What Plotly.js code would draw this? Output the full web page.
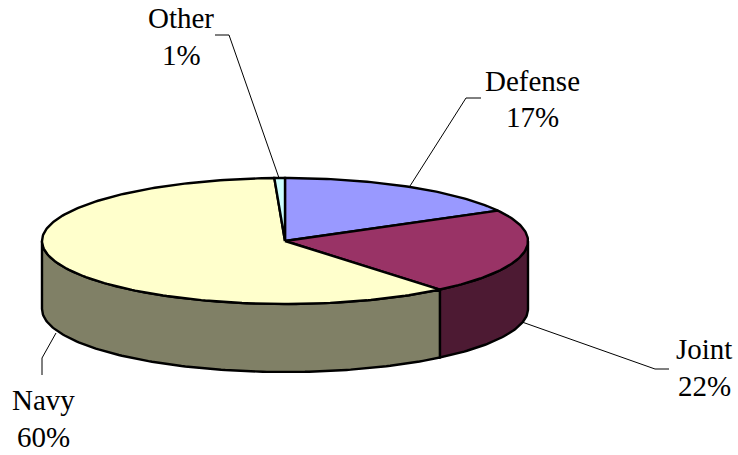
<!DOCTYPE html>
<html><head><meta charset="utf-8">
<script src="https://cdn.plot.ly/plotly-3.0.1.min.js"></script>
<style>html,body{margin:0;padding:0;background:#fff}#c{width:738px;height:455px}</style>
</head><body><div id="c"></div>
<script>
const categories = ["Defense","Joint","Navy","Other"];
const values = [17, 22, 60.3, 0.7];
const percentLabels = ["17%","22%","60%","1%"];
const topColors = ["#9999FF","#993366","#FFFFCC","#CCFFFF"];
const sideColors = ["#4D4D80","#4D1A33","#808066","#668080"];

// Projection of the tilted disc, in plot units
const geo = {cx:285, cy:241, rx:243, ry:63, depth:68};
const pt = (deg, drop=0) => {
  const r = deg*Math.PI/180;
  return [geo.cx + geo.rx*Math.sin(r), geo.cy - geo.ry*Math.cos(r) + drop];
};
const arc = (a, b, drop=0) => {
  const n = Math.max(2, Math.ceil(Math.abs(b-a)));
  const out = [];
  for (let i=0;i<=n;i++) out.push(pt(a+(b-a)*i/n, drop));
  return out;
};
const total = values.reduce((s,v)=>s+v,0);
let acc = 0;
const slices = values.map(v => { const a = acc; acc += v/total*360; return [a, acc]; });

const poly = (pts, fill) => ({
  type:"scatter", mode:"lines", x:pts.map(p=>p[0]), y:pts.map(p=>p[1]),
  fill:"toself", fillcolor:fill, line:{color:"#000",width:2.4,shape:"linear"},
  hoverinfo:"skip", showlegend:false
});

const traces = [];
// outer walls: only the front half of the disc (90 to 270 degrees) is visible
slices.forEach(([a,b],i) => {
  const s = Math.max(a,90), e = Math.min(b,270);
  if (e > s) {
    const pts = arc(s,e).concat(arc(e,s,geo.depth));
    pts.push(pts[0]);
    traces.push(poly(pts, sideColors[i]));
  }
});
// top faces
slices.forEach(([a,b],i) => {
  const pts = [[geo.cx,geo.cy]].concat(arc(a,b));
  pts.push([geo.cx,geo.cy]);
  traces.push(poly(pts, topColors[i]));
});

// leader lines and label placement
const leaders = [
  [[410,186],[466,98],[481,98]],
  [[522,322],[655,369],[669,369]],
  [[56,333],[42,358],[42,375]],
  [[279,178],[229,35],[215,35]]
];
const labelPos = [[532,81,117],[704,349,386],[43,400,437],[181,18,55]];
leaders.forEach(l => traces.push({
  type:"scatter", mode:"lines", x:l.map(p=>p[0]), y:l.map(p=>p[1]),
  line:{color:"#000",width:1}, hoverinfo:"skip", showlegend:false
}));

const font = {family:'"Liberation Serif","Times New Roman",serif', size:29, color:"#000"};
const annotations = [];
categories.forEach((c,i) => {
  const [x,y1,y2] = labelPos[i];
  annotations.push({x,y:y1,text:c,showarrow:false,font,xanchor:"center",yanchor:"middle"});
  annotations.push({x,y:y2,text:percentLabels[i],showarrow:false,font,xanchor:"center",yanchor:"middle"});
});

Plotly.newPlot("c", traces, {
  width:738, height:455, margin:{l:0,r:0,t:0,b:0},
  paper_bgcolor:"#fff", plot_bgcolor:"#fff", showlegend:false,
  xaxis:{range:[0,738],visible:false,fixedrange:true},
  yaxis:{range:[455,0],visible:false,fixedrange:true},
  annotations
},{displayModeBar:false,staticPlot:true});
</script></body></html>
